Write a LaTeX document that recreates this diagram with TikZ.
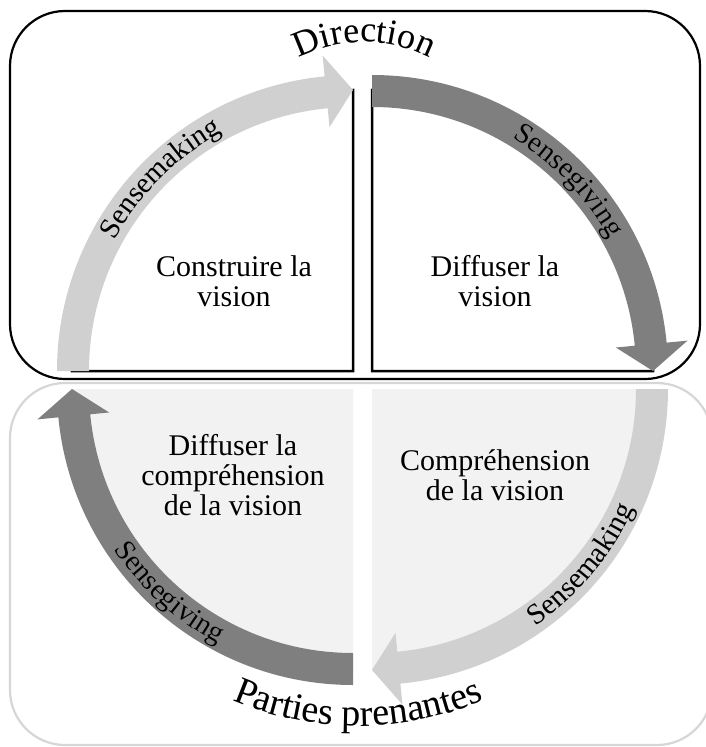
\documentclass[tikz,border=0pt]{standalone}
\usepackage{fontspec}
\setmainfont{Liberation Serif}
\usetikzlibrary{decorations.text}

\definecolor{senselight}{HTML}{D0D0D0}
\definecolor{sensedark}{HTML}{7F7F7F}
\definecolor{quadgray}{HTML}{F2F2F2}
\definecolor{frameline}{HTML}{D6D6D6}

\newcommand\labelfont{\fontsize{29}{30}\selectfont}
\newcommand\titlefont{\fontsize{36}{38}\selectfont}
\newcommand\bigtitlefont{\fontsize{38}{40}\selectfont}

\tikzset{
  outerbox/.style={rounded corners=55pt, line width=2.2pt},
  topquad/.style={fill=white, draw=black, line width=2.5pt},
  lowquad/.style={fill=quadgray},
  quadtext/.style={align=center, font=\fontsize{30}{30}\selectfont, anchor=base},
  arclabel/.style={decorate, decoration={text along path, text align=center, text={|\labelfont|#1}}},
  arcshadow/.style={arclabel={#1}, decoration={text color=black!30}, transform canvas={shift={(1.5,1.5)}}},
  titlelabel/.style={decorate, decoration={text along path, text align=center, text={#1}}},
  titleshadow/.style={titlelabel={#1}, decoration={text color=black!30}, transform canvas={shift={(2,2)}}}
}

\begin{document}
\begin{tikzpicture}[x=1pt, y=-1pt]
  \useasboundingbox (0,0) rectangle (705,747);
  % two frames
  \draw[outerbox, draw=frameline] (10,383) rectangle (712,745);
  \draw[outerbox, draw=black] (10,11) rectangle (700,379);
  % quarter pies
  \filldraw[topquad, shift={(353,371)}] (0,0) -- (270:281) arc[start angle=270, end angle=180, radius=281] -- cycle;
  \filldraw[topquad, shift={(372,371)}] (0,0) -- (270:281) arc[start angle=270, end angle=360, radius=281] -- cycle;
  \fill[lowquad, shift={(353,389)}] (0,0) -- (90:281) arc[start angle=90, end angle=180, radius=281] -- cycle;
  \fill[lowquad, shift={(372,389)}] (0,0) -- (0:281) arc[start angle=0, end angle=90, radius=281] -- cycle;
  % curved arrows, all running clockwise
  \foreach \cx/\cy/\a/\col in {353/371/180/senselight, 372/371/270/sensedark,
                               372/389/0/senselight, 353/389/90/sensedark} {
    \fill[\col, shift={(\cx,\cy)}] (\a:296) arc[start angle=\a, end angle=\a+84.5, radius=296]
      -- (\a+84.5:317) -- (\a+90:281) -- (\a+84.5:245) -- (\a+84.5:264)
      arc[start angle=\a+84.5, end angle=\a, radius=264] -- cycle;
  }
  % labels on the arrows
  \path[arcshadow=Sensemaking, shift={(353,371)}] (180:272) arc[start angle=180, end angle=270, radius=272];
  \path[arclabel=Sensemaking, shift={(353,371)}] (180:272) arc[start angle=180, end angle=270, radius=272];
  \path[arcshadow=Sensegiving, shift={(372,371)}] (270:272) arc[start angle=270, end angle=362, radius=272];
  \path[arclabel=Sensegiving, shift={(372,371)}] (270:272) arc[start angle=270, end angle=362, radius=272];
  \path[arcshadow=Sensegiving, shift={(353,389)}] (172:288) arc[start angle=172, end angle=92, radius=288];
  \path[arclabel=Sensegiving, shift={(353,389)}] (172:288) arc[start angle=172, end angle=92, radius=288];
  \path[arcshadow=Sensemaking, shift={(372,389)}] (80:288) arc[start angle=80, end angle=0, radius=288];
  \path[arclabel=Sensemaking, shift={(372,389)}] (80:288) arc[start angle=80, end angle=0, radius=288];
  % quadrant texts
  \node[quadtext] (construire) at (234,306) {Construire la\\vision};
  \node[quadtext] (diffuser) at (495,306) {Diffuser la\\vision};
  \node[quadtext] (diffcompr) at (233,515) {Diffuser la\\compréhension\\de la vision};
  \node[quadtext] (comprvision) at (495,500) {Compréhension\\de la vision};
  % arched titles
  \path[titleshadow=|\titlefont|Direction, shift={(364,185)}] (235:143) arc[start angle=235, end angle=305, radius=143];
  \path[titlelabel=|\titlefont|Direction, shift={(364,185)}] (235:143) arc[start angle=235, end angle=305, radius=143];
  \path[titleshadow={|\bigtitlefont|Parties prenantes}, shift={(358,408)}] (125:318) arc[start angle=125, end angle=55, radius=318];
  \path[titlelabel={|\bigtitlefont|Parties prenantes}, shift={(358,408)}] (125:318) arc[start angle=125, end angle=55, radius=318];
\end{tikzpicture}
\end{document}
